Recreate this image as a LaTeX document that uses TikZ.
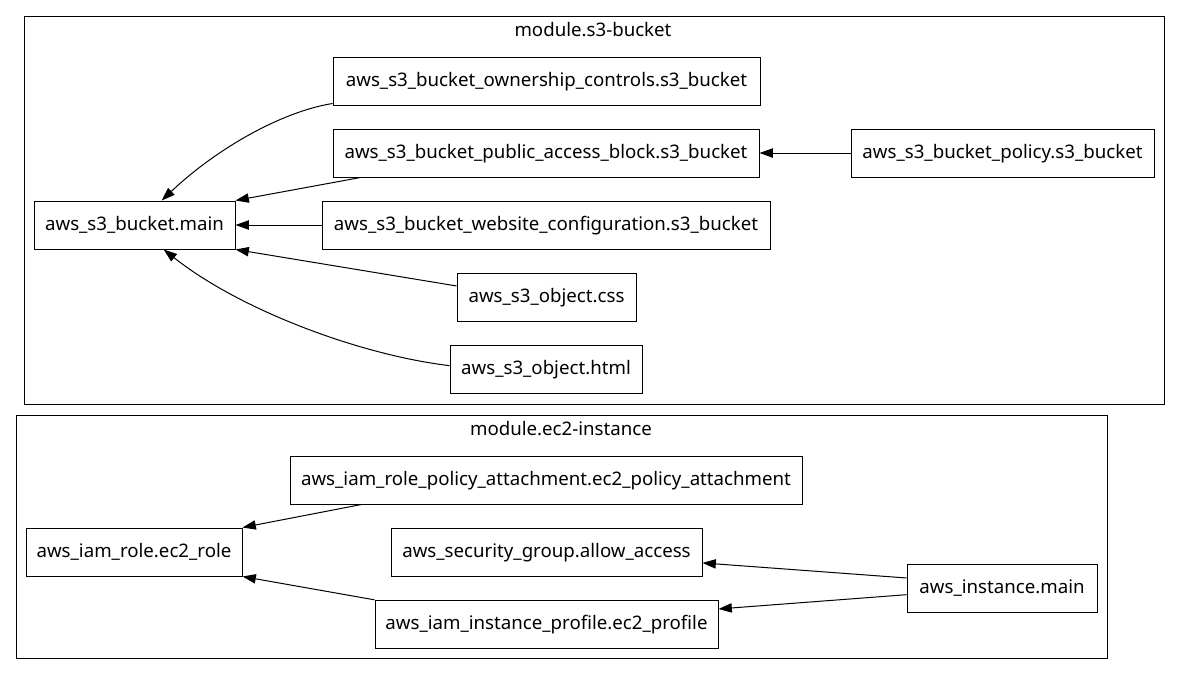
\documentclass[tikz,border=0pt]{standalone}
\usepackage{fontspec}
\setmainfont{Noto Sans}
\usetikzlibrary{arrows.meta}

\begin{document}
\begin{tikzpicture}[x=0.75pt,y=-0.75pt,line width=0.75pt,
  res/.style={draw,rectangle,minimum height=36pt,minimum width=#1,inner xsep=2pt,
    text height=11.4pt,text depth=2.8pt,font=\fontsize{14pt}{16pt}\selectfont},
  modtitle/.style={font=\fontsize{14pt}{16pt}\selectfont},
  dep/.style={-{Triangle[length=10pt,width=7pt]}}]
\useasboundingbox (0,0) rectangle (1180,675);
% Draw the module boxes
\draw (24,16) rectangle (1164,404);
\draw (16,415) rectangle (1107,658);
\node[modtitle] (s3mod) at (593,30) {module.s3-bucket};
\node[modtitle] (ec2mod) at (561,429) {module.ec2-instance};
% s3 resources
\node[res=150.75pt] (bucket) at (134.5,225) {aws\_s3\_bucket.main};
\node[res=320.25pt] (owner) at (546.5,81) {aws\_s3\_bucket\_ownership\_controls.s3\_bucket};
\node[res=319.5pt] (pab) at (546,153) {aws\_s3\_bucket\_public\_access\_block.s3\_bucket};
\node[res=227.25pt] (policy) at (1002.5,153) {aws\_s3\_bucket\_policy.s3\_bucket};
\node[res=336pt] (website) at (546,225) {aws\_s3\_bucket\_website\_configuration.s3\_bucket};
\node[res=134.25pt] (css) at (546.5,297) {aws\_s3\_object.css};
\node[res=144pt] (html) at (546,369) {aws\_s3\_object.html};
% ec2 resources
\node[res=162pt] (role) at (134,552) {aws\_iam\_role.ec2\_role};
\node[res=384pt] (attach) at (546,480) {aws\_iam\_role\_policy\_attachment.ec2\_policy\_attachment};
\node[res=233.25pt] (sg) at (546.5,552) {aws\_security\_group.allow\_access};
\node[res=142.5pt] (inst) at (1002,588) {aws\_instance.main};
\node[res=257.25pt] (profile) at (546.5,624) {aws\_iam\_instance\_profile.ec2\_profile};
% Add dependency arrows
\draw[dep] (owner.186) .. controls (280,112) and (215,150) .. (bucket.42);
\draw[dep] ([xshift=21pt]pab.south west) -- (bucket.north east);
\draw[dep] (website.west) -- (bucket.east);
\draw[dep] (css.173.6) -- (bucket.south east);
\draw[dep] (html.178) .. controls (360,355) and (240,310) .. (bucket.-40);
\draw[dep] (policy.west) -- (pab.east);
\draw[dep] ([xshift=54pt]attach.south west) -- (role.north east);
\draw[dep] (profile.172.7) -- (role.south east);
\draw[dep] (inst.174.6) -- (sg.-4.8);
\draw[dep] (inst.184.8) -- (profile.5.3);
\end{tikzpicture}
\end{document}
